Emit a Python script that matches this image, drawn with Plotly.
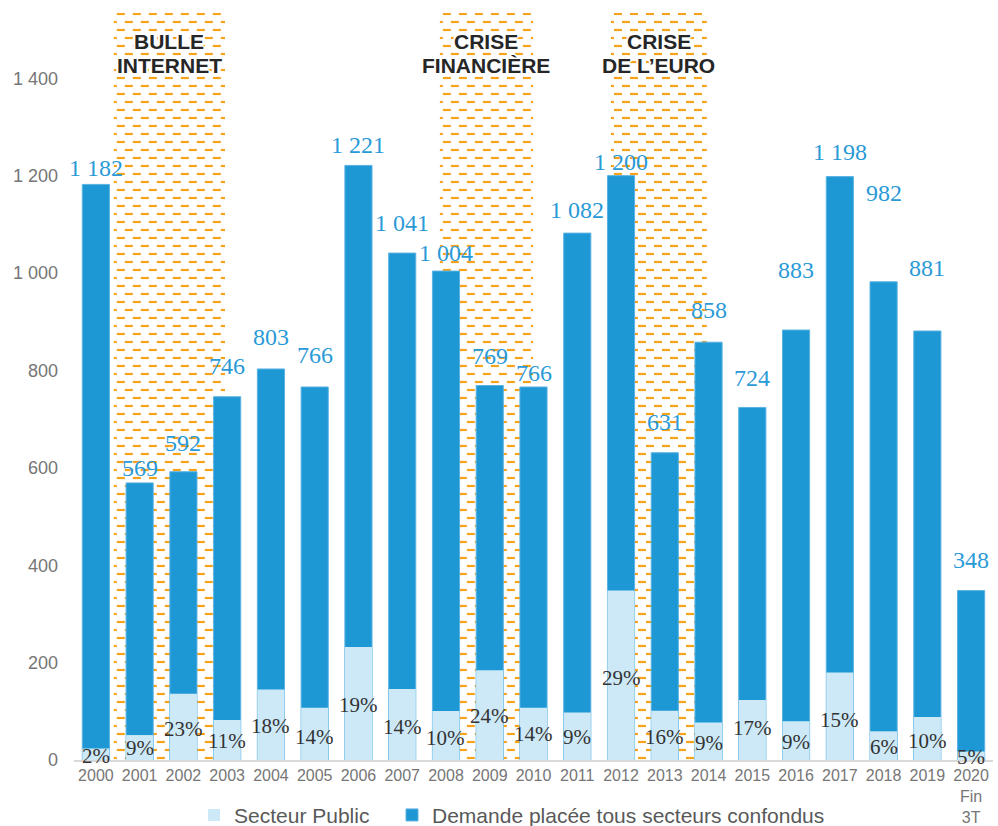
import plotly.graph_objects as go

# ---------------- data ----------------
years = ["2000", "2001", "2002", "2003", "2004", "2005", "2006", "2007", "2008", "2009",
         "2010", "2011", "2012", "2013", "2014", "2015", "2016", "2017", "2018", "2019",
         "2020<br>Fin<br>3T"]
totals = [1182, 569, 592, 746, 803, 766, 1221, 1041, 1004, 769,
          766, 1082, 1200, 631, 858, 724, 883, 1198, 982, 881, 348]
public_pct = [2, 9, 23, 11, 18, 14, 19, 14, 10, 24,
              14, 9, 29, 16, 9, 17, 9, 15, 6, 10, 5]
series_names = ["Secteur Public", "Demande placée tous secteurs confondus"]
crisis_titles = [["BULLE", "INTERNET"], ["CRISE", "FINANCIÈRE"], ["CRISE", "DE L’EURO"]]
y_ticks = [0, 200, 400, 600, 800, 1000, 1200, 1400]

# ---------------- styling / layout helpers ----------------
crisis_spans = [(0.41, 2.95), (7.86, 9.99), (11.77, 13.96)]   # in category units
total_label_lift = [16, 15, 29, 31, 32, 32, 20, 30, 18, 30, 14, 23, 14, 31, 32, 29, 60, 25, 89, 63, 31]
pct_label_drop = [8, 13, 35, 21, 36, 29, 58, 38, 27, 46, 26, 24, 87, 26, 21, 28, 21, 48, 16, 24, 5]

W, H = 998, 826
M_L, M_R, M_T, M_B = 74, 5, 13, 66
PLOT_TOP, PLOT_BOTTOM = M_T, H - M_B
Y_MAX = 1534
N = len(years)
STEP = (W - M_L - M_R) / N
X0 = M_L + STEP / 2

DARK = "#1E98D5"
LIGHT = "#CDE9F8"
ORANGE = "#F7A21B"
GREY = "#767676"

public = [t * p / 100 for t, p in zip(totals, public_pct)]
xs_cat = list(range(N))


def px_of(xc):
    return X0 + STEP * xc


def xc_of(px):
    return (px - X0) / STEP


fig = go.Figure()

# dashed hatch background for crisis periods (main subplot, drawn underneath)
for (a, b) in crisis_spans:
    left, right = px_of(a), px_of(b)
    hx, hy = [], []
    for k, ypx in enumerate(range(PLOT_TOP + 1, PLOT_BOTTOM, 8)):
        s = left + 3 if k % 2 == 0 else left - 5
        while s < right:
            d0, d1 = max(s, left), min(s + 8, right)
            if d1 - d0 > 0.5:
                hx += [xc_of(d0), xc_of(d1), None]
                hy += [ypx, ypx, None]
            s += 16
    fig.add_trace(go.Scatter(x=hx, y=hy, mode="lines",
                             line=dict(color=ORANGE, width=2.2),
                             hoverinfo="skip", showlegend=False,
                             xaxis="x", yaxis="y"))

# bars (overlay subplot, drawn above hatch)
fig.add_trace(go.Bar(x=xs_cat, y=totals, name=series_names[1], width=0.62,
                     marker=dict(color=DARK, line=dict(color="#5AB2E2", width=1)),
                     xaxis="x", yaxis="y2", legendrank=2))
fig.add_trace(go.Bar(x=xs_cat, y=public, name=series_names[0], width=0.62,
                     marker=dict(color=LIGHT, line=dict(width=0)),
                     xaxis="x", yaxis="y2", legendrank=1, legendwidth=153))

annotations = []
for i in range(N):
    annotations.append(dict(
        x=i, y=totals[i], xref="x", yref="y2",
        text=f"{totals[i]:,}".replace(",", " "),
        showarrow=False, yanchor="middle", yshift=total_label_lift[i],
        font=dict(family="Liberation Serif", size=24, color="#2A9AD7")))
    annotations.append(dict(
        x=i, y=public[i], xref="x", yref="y2",
        text=f"{public_pct[i]}%",
        showarrow=False, yanchor="middle", yshift=-pct_label_drop[i],
        font=dict(family="Liberation Serif", size=21, color="#333333")))

halo = ("-1px -1px 0 #fff, 1px -1px 0 #fff, -1px 1px 0 #fff, 1px 1px 0 #fff, "
        "0 -2px 0 #fff, 0 2px 0 #fff, -2px 0 0 #fff, 2px 0 0 #fff")
for (a, b), lines in zip(crisis_spans, crisis_titles):
    for j, line in enumerate(lines):
        annotations.append(dict(
            x=(a + b) / 2, y=41 + 24 * j, xref="x", yref="y",
            text=f"<b>{line}</b>", showarrow=False,
            xanchor="center", yanchor="middle",
            font=dict(family="Liberation Sans", size=21, color="#262626", shadow=halo)))

fig.update_layout(
    width=W, height=H,
    margin=dict(l=M_L, r=M_R, t=M_T, b=M_B, autoexpand=False),
    paper_bgcolor="white", plot_bgcolor="white",
    barmode="overlay",
    separators=", ",
    hovermode=False,
    annotations=annotations,
    xaxis=dict(range=[-0.5, N - 0.5], tickmode="array", tickvals=xs_cat, ticktext=years,
               tickfont=dict(family="Liberation Sans", size=16, color=GREY),
               showline=True, linecolor="#D9D9D9", linewidth=2,
               showgrid=False, zeroline=False, ticks="", ticklabelstandoff=0,
               fixedrange=True),
    yaxis=dict(range=[PLOT_BOTTOM, PLOT_TOP], visible=False, fixedrange=True),
    yaxis2=dict(range=[0, Y_MAX], overlaying="y", side="left", tickmode="array",
                tickvals=y_ticks, tickformat=",d",
                tickfont=dict(family="Liberation Sans", size=18, color=GREY),
                showgrid=False, zeroline=False, showline=False, ticks="",
                ticklabelstandoff=15, fixedrange=True),
    legend=dict(orientation="h", x=(194 - M_L) / (W - M_L - M_R), xanchor="left",
                y=-0.074, yanchor="middle",
                font=dict(family="Liberation Sans", size=21, color="#595959"),
                bgcolor="rgba(0,0,0,0)"),
)

fig.write_html(
    "out.html",
    config={"displayModeBar": False},
    post_script="document.body.style.margin='0';document.body.style.overflow='hidden';",
)
